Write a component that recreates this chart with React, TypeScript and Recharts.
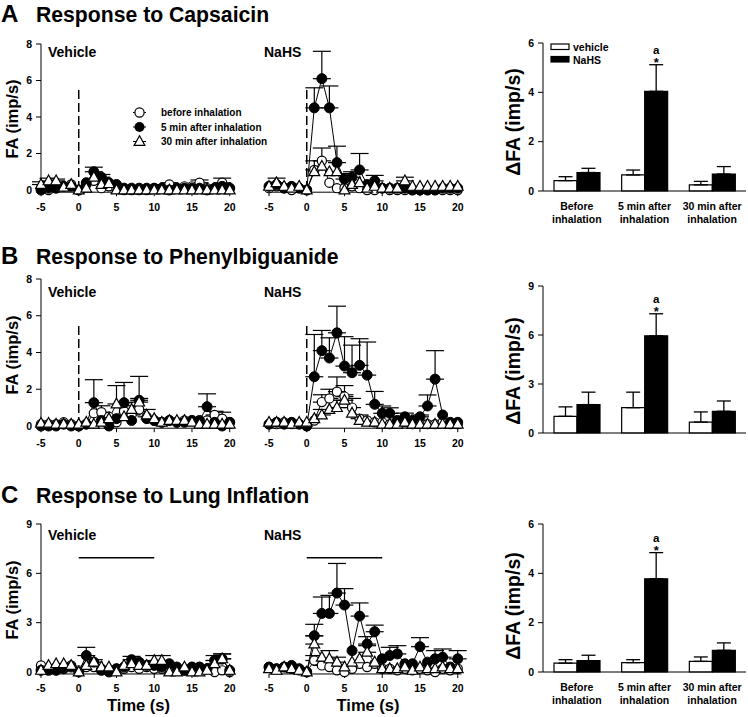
import React from 'react'
import { ComposedChart, Line, Bar, XAxis, YAxis, ErrorBar, ReferenceLine, LabelList } from 'recharts'

const FONT = 'Arial, "Liberation Sans", Helvetica, sans-serif'

// time points (s), one per second
const TIME = [-5, -4, -3, -2, -1, 0, 1, 2, 3, 4, 5, 6, 7, 8, 9, 10, 11, 12, 13, 14, 15, 16, 17, 18, 19, 20]
const TIME_TICKS = [-5, 0, 5, 10, 15, 20]

// A: capsaicin, vehicle
const A_VEH_BEFORE = [0.1, 0, 0.1, 0.2, 0.3, 0, 0.3, 0.5, 0.1, 0.2, 0.1, 0, 0, 0, 0, 0.1, 0.1, 0.3, 0.1, 0.2, 0.2, 0.4, 0.1, 0.1, 0.4, 0.1]
const A_VEH_BEFORE_ERR = [0, 0, 0, 0, 0, 0, 0, 0, 0, 0, 0, 0, 0, 0, 0, 0, 0, 0.1, 0, 0, 0, 0.15, 0, 0, 0.25, 0]
const A_VEH_5 = [0, 0.1, 0.1, 0.2, 0.2, 0, 0.4, 1.0, 0.7, 0.4, 0.3, 0.1, 0.1, 0.1, 0.1, 0.1, 0.1, 0, 0.1, 0.1, 0.1, 0.1, 0, 0.1, 0.2, 0.1]
const A_VEH_5_ERR = [0, 0, 0, 0, 0, 0, 0, 0.25, 0.15, 0, 0, 0, 0, 0, 0, 0, 0, 0, 0, 0, 0, 0, 0, 0, 0, 0]
const A_VEH_30 = [0.3, 0.5, 0.5, 0.15, 0.3, 0, 0.1, 0.7, 0.3, 0.35, 0, 0, 0, 0, 0, 0, 0, 0, 0, 0, 0, 0, 0, 0, 0, 0]
const A_VEH_30_ERR = [0.15, 0.15, 0.1, 0, 0, 0, 0, 0, 0, 0, 0, 0, 0, 0, 0, 0, 0, 0, 0, 0, 0, 0, 0, 0, 0, 0]
// A: capsaicin, NaHS
const A_NAHS_BEFORE = [0.1, 0.2, 0.1, 0, 0.1, 0, 1.1, 1.6, 0.4, 0.1, 0.1, 0.2, 0.1, 0, 0, 0.1, 0, 0, 0, 0, 0, 0, 0, 0, 0, 0]
const A_NAHS_BEFORE_ERR = [0, 0, 0, 0, 0, 0, 0.5, 0.7, 0, 0, 0, 0, 0, 0, 0, 0, 0, 0, 0, 0, 0, 0, 0, 0, 0, 0]
const A_NAHS_5 = [0.2, 0.3, 0.1, 0.2, 0.1, 0, 4.5, 6.1, 4.5, 1.5, 0.6, 0.7, 1.1, 0.3, 0.5, 0.1, 0.1, 0.1, 0.1, 0, 0, 0, 0, 0.1, 0.1, 0.1]
const A_NAHS_5_ERR = [0, 0, 0, 0, 0, 0, 1.1, 1.5, 1.2, 0.9, 0.3, 0.3, 0.9, 0, 0.3, 0, 0, 0, 0, 0, 0, 0, 0, 0, 0, 0]
const A_NAHS_30 = [0.2, 0.4, 0.2, 0.1, 0.2, 0, 1.0, 1.3, 1.0, 1.0, 0, 0.3, 0.4, 0.1, 0.2, 0.1, 0.1, 0.1, 0.5, 0.2, 0.2, 0.2, 0.2, 0.2, 0.2, 0.2]
const A_NAHS_30_ERR = [0, 0.25, 0, 0, 0, 0, 0, 0, 0, 0, 0, 0, 0, 0, 0, 0, 0, 0, 0.2, 0, 0, 0, 0, 0, 0, 0]

// B: phenylbiguanide, vehicle
const B_VEH_BEFORE = [0.1, 0.1, 0.1, 0.2, 0.1, 0, 0.1, 0.7, 0.75, 0.5, 0.2, 0.8, 0.6, 0.9, 0.5, 0.3, 0.2, 0.3, 0.2, 0.3, 0.3, 0.2, 0.3, 0.6, 0.4, 0.2]
const B_VEH_BEFORE_ERR = [0, 0, 0, 0, 0, 0, 0, 0, 0.35, 0, 0, 0, 0.3, 0, 0.4, 0, 0, 0, 0, 0, 0, 0, 0, 0.2, 0.35, 0]
const B_VEH_5 = [0, 0, 0, 0.1, 0, 0, 0.1, 1.27, 0.3, 0, 0.4, 1.27, 0.3, 1.4, 0.4, 0.3, 0.2, 0.3, 0.2, 0.2, 0.3, 0.3, 1.05, 0.2, 0, 0.2]
const B_VEH_5_ERR = [0, 0, 0, 0, 0, 0, 0, 1.25, 0, 0, 0, 1.1, 0, 1.3, 0, 0, 0, 0, 0, 0, 0, 0, 0.7, 0, 0, 0]
const B_VEH_30 = [0.15, 0.15, 0.1, 0.1, 0.1, 0.1, 0.2, 0.1, 0.2, 0.4, 1.2, 0.5, 0.9, 1.3, 0.6, 0.4, 0.2, 0.3, 0.3, 0.3, 0.2, 0.1, 0.1, 0.1, 0.1, 0.1]
const B_VEH_30_ERR = [0, 0, 0, 0, 0, 0, 0, 0, 0, 0, 1.0, 0, 0.2, 0.2, 0, 0, 0, 0, 0, 0, 0, 0, 0, 0, 0, 0]
// B: phenylbiguanide, NaHS
const B_NAHS_BEFORE = [0.1, 0.1, 0.2, 0.1, 0.1, 0, 0.3, 1.3, 1.5, 1.87, 1.6, 1.0, 0.4, 0.3, 0.2, 0.2, 0.1, 0.2, 0.2, 0.1, 0.2, 0.1, 0.1, 0.2, 0.1, 0.1]
const B_NAHS_BEFORE_ERR = [0, 0, 0, 0, 0, 0, 0, 0.4, 0.5, 0.8, 0.6, 0.5, 0.2, 0, 0, 0, 0, 0, 0, 0, 0, 0, 0, 0, 0, 0]
const B_NAHS_5 = [0.1, 0.2, 0.1, 0.2, 0.1, 0, 2.68, 4.1, 3.7, 5.07, 3.26, 2.9, 3.3, 2.77, 1.18, 0.69, 0.69, 0.3, 0.5, 0.3, 0.5, 1.09, 2.55, 0.6, 0.2, 0.2]
const B_NAHS_5_ERR = [0, 0, 0, 0, 0, 0, 2.3, 1.1, 1.1, 1.45, 1.6, 1.5, 1.45, 1.8, 0.7, 0.4, 0.3, 0, 0.2, 0, 0.1, 0.6, 1.55, 0, 0, 0]
const B_NAHS_30 = [0.2, 0.2, 0.2, 0.1, 0.2, 0.2, 0.4, 0.6, 0.9, 1.0, 1.4, 0.7, 0.3, 0.2, 0.2, 0.1, 0.1, 0.1, 0.2, 0.1, 0.1, 0.1, 0.1, 0.1, 0.1, 0.1]
const B_NAHS_30_ERR = [0, 0, 0, 0, 0, 0, 0, 0.3, 0, 0.4, 0.3, 0, 0, 0, 0, 0, 0, 0, 0, 0, 0, 0, 0, 0, 0, 0]

// C: lung inflation, vehicle
const C_VEH_BEFORE = [0.4, 0.2, 0.3, 0.2, 0.4, 0.1, 0.3, 0.3, 0.2, 0.1, 0.2, 0.2, 0.3, 0.2, 0.3, 0.2, 0.2, 0.2, 0.2, 0.1, 0.3, 0.3, 0.2, 0, 0.1, 0]
const C_VEH_BEFORE_ERR = [0, 0, 0, 0, 0, 0, 0, 0, 0, 0, 0, 0, 0, 0, 0, 0, 0, 0, 0, 0, 0, 0, 0, 0, 0, 0]
const C_VEH_5 = [0.1, 0.1, 0.1, 0.2, 0.3, 0, 1.0, 0.6, 0.1, 0, 0.2, 0.3, 0.75, 0.6, 0.4, 0.4, 0.3, 0.5, 0.3, 0.1, 0.3, 0.3, 0.2, 0.7, 0.8, 0.1]
const C_VEH_5_ERR = [0, 0, 0, 0, 0, 0, 0.5, 0.15, 0, 0, 0, 0, 0.2, 0, 0, 0, 0, 0, 0, 0, 0, 0, 0, 0.3, 0.3, 0]
const C_VEH_30 = [0.1, 0.4, 0.5, 0.5, 0.4, 0, 0.4, 0.6, 0.3, 0.3, 0, 0.4, 0.5, 0.4, 0.4, 0.7, 0.7, 0, 0, 0.3, 0, 0, 0.1, 0.5, 0.8, 0.1]
const C_VEH_30_ERR = [0, 0, 0, 0, 0, 0, 0, 0, 0, 0, 0, 0, 0, 0, 0, 0.3, 0.3, 0, 0, 0, 0, 0, 0, 0.2, 0.3, 0]
// C: lung inflation, NaHS
const C_NAHS_BEFORE = [0.3, 0.2, 0.3, 0.2, 0.1, 0, 0.7, 0.4, 0.3, 0.1, 0, 0.2, 0.5, 0.3, 0.5, 0.2, 0.2, 0.1, 0.2, 0.1, 0.2, 0.1, 0, 0.2, 0.1, 0.2]
const C_NAHS_BEFORE_ERR = [0, 0, 0, 0, 0, 0, 0.3, 0.3, 0.3, 0, 0, 0, 0, 0, 0, 0, 0, 0, 0, 0, 0, 0, 0, 0, 0, 0]
const C_NAHS_5 = [0.3, 0.2, 0.3, 0.4, 0.2, 0, 2.2, 3.56, 3.56, 4.8, 4.07, 1.3, 3.4, 1.7, 2.45, 0.8, 1.0, 1.1, 0.5, 0.5, 1.54, 0.6, 0.8, 0.9, 0.3, 0.8]
const C_NAHS_5_ERR = [0, 0, 0, 0, 0, 0, 0.7, 1.0, 1.1, 1.8, 1.0, 0, 0.8, 0.45, 0.4, 0, 0.5, 0.5, 0, 0, 0.55, 0, 0.5, 0.5, 0, 0.5]
const C_NAHS_30 = [0.2, 0.1, 0.3, 0.2, 0.1, 0, 1.7, 0.9, 0.8, 0.6, 0.3, 0.6, 0.8, 1.2, 0.6, 0.2, 0.2, 0.2, 0.3, 0.1, 0.3, 0.2, 0.2, 0.3, 0.2, 0.2]
const C_NAHS_30_ERR = [0, 0, 0, 0, 0, 0, 0.5, 0, 0.5, 0.3, 0, 0, 0, 0.4, 0, 0, 0, 0, 0, 0, 0, 0, 0, 0, 0, 0]

// bar summaries (ΔFA)
const BAR_CATS = ['Before\ninhalation', '5 min after\ninhalation', '30 min after\ninhalation']
const BAR_MARK = ['', 'a', '']
const A_BAR_VEH = [0.42, 0.65, 0.25]
const A_BAR_VEH_ERR = [0.16, 0.2, 0.14]
const A_BAR_NAHS = [0.75, 4.04, 0.69]
const A_BAR_NAHS_ERR = [0.17, 1.08, 0.3]
const B_BAR_VEH = [1.02, 1.55, 0.67]
const B_BAR_VEH_ERR = [0.58, 0.95, 0.62]
const B_BAR_NAHS = [1.74, 5.95, 1.33]
const B_BAR_NAHS_ERR = [0.76, 1.35, 0.63]
const C_BAR_VEH = [0.36, 0.38, 0.43]
const C_BAR_VEH_ERR = [0.14, 0.12, 0.18]
const C_BAR_NAHS = [0.46, 3.78, 0.88]
const C_BAR_NAHS_ERR = [0.22, 1.06, 0.3]

const tickStyle = { fontSize: 10.5, fontWeight: 700, fill: '#000', fontFamily: FONT }
const up = (e: number) => (e > 0 ? [0, e] : null)

// eslint-disable-next-line @typescript-eslint/no-explicit-any
const openDot = (p: any) => (
  <circle key={`o${p.index}`} cx={p.cx} cy={p.cy} r={4.6} fill="#fff" stroke="#000" strokeWidth={1.2} />
)
// eslint-disable-next-line @typescript-eslint/no-explicit-any
const fillDot = (p: any) => (
  <circle key={`f${p.index}`} cx={p.cx} cy={p.cy} r={5} fill="#000" stroke="#000" strokeWidth={1} />
)
// eslint-disable-next-line @typescript-eslint/no-explicit-any
const triDot = (p: any) => (
  <path key={`t${p.index}`} d={`M${p.cx},${p.cy - 5.8}L${p.cx - 5.4},${p.cy + 3.9}L${p.cx + 5.4},${p.cy + 3.9}Z`}
    fill="#fff" stroke="#000" strokeWidth={1.2} />
)

interface TimeProps {
  left: number; topY: number; zeroY: number; yMax: number; yTicks: number[]; showY: boolean
  stim: 'dash' | 'bar'
  before: number[]; beforeErr: number[]; min5: number[]; min5Err: number[]; min30: number[]; min30Err: number[]
}

function TimeChart({ left, topY, zeroY, yMax, yTicks, showY, stim, before, beforeErr, min5, min5Err, min30, min30Err }: TimeProps) {
  const ppu = (zeroY - topY) / yMax
  const yMin = -0.12
  const plotH = (yMax - yMin) * ppu
  const plotW = 192.5
  const padL = 40, padT = 8, padR = 12, padB = 30

  const rows = TIME.map((t, i) => ({
    t,
    b: before[i], bE: up(beforeErr[i]),
    m5: min5[i], m5E: up(min5Err[i]),
    m30: min30[i], m30E: up(min30Err[i]),
  }))

  return (
    <div style={{ position: 'absolute', left: left - padL, top: topY - padT }}>
      <ComposedChart width={plotW + padL + padR} height={plotH + padT + padB} data={rows}
        margin={{ top: padT, right: padR, bottom: 0, left: showY ? 0 : padL }}>
        <XAxis type="number" dataKey="t" domain={[-5, 20.5]} ticks={TIME_TICKS} height={padB}
          tick={tickStyle} tickSize={4} tickMargin={7}
          axisLine={{ stroke: '#000' }} tickLine={{ stroke: '#000' }} />
        <YAxis type="number" domain={[yMin, yMax]} ticks={yTicks} width={padL} hide={!showY}
          tick={tickStyle} tickSize={5} tickMargin={4}
          axisLine={{ stroke: '#000' }} tickLine={{ stroke: '#000' }} />
        {stim === 'dash'
          ? <ReferenceLine segment={[{ x: 0, y: 0 }, { x: 0, y: 5.6 }]} stroke="#000" strokeWidth={1.5} strokeDasharray="9 4" />
          : <ReferenceLine segment={[{ x: 0, y: 6.95 }, { x: 10, y: 6.95 }]} stroke="#000" strokeWidth={1.5} />}
        <Line type="linear" dataKey="b" stroke="#000" strokeWidth={1} dot={openDot} isAnimationActive={false}>
          <ErrorBar dataKey="bE" direction="y" width={9} stroke="#000" strokeWidth={1.2} />
        </Line>
        <Line type="linear" dataKey="m5" stroke="#000" strokeWidth={1} dot={fillDot} isAnimationActive={false}>
          <ErrorBar dataKey="m5E" direction="y" width={9} stroke="#000" strokeWidth={1.2} />
        </Line>
        <Line type="linear" dataKey="m30" stroke="#000" strokeWidth={1} dot={triDot} isAnimationActive={false}>
          <ErrorBar dataKey="m30E" direction="y" width={9} stroke="#000" strokeWidth={1.2} />
        </Line>
      </ComposedChart>
    </div>
  )
}

// eslint-disable-next-line @typescript-eslint/no-explicit-any
function CatTick({ x, y, payload }: any) {
  const lines = String(payload.value).split('\n')
  return (
    <text x={x} y={y} textAnchor="middle" style={tickStyle}>
      <tspan x={x} dy={19}>{lines[0]}</tspan>
      <tspan x={x} dy={13}>{lines[1]}</tspan>
    </text>
  )
}

interface BarProps {
  topY: number; zeroY: number; yMax: number; yTicks: number[]; showCats: boolean
  veh: number[]; vehErr: number[]; nahs: number[]; nahsErr: number[]
}

function BarPanel({ topY, zeroY, yMax, yTicks, showCats, veh, vehErr, nahs, nahsErr }: BarProps) {
  const plotLeft = 543, plotW = 203
  const plotH = zeroY - topY
  const padL = 45, padT = 8, padR = 3, padB = 40

  const rows = BAR_CATS.map((cat, i) => ({
    cat, veh: veh[i], vehE: [0, vehErr[i]], nahs: nahs[i], nahsE: [0, nahsErr[i]], mark: BAR_MARK[i],
  }))

  // "a" over "*" above the error bar of the marked bar
  // eslint-disable-next-line @typescript-eslint/no-explicit-any
  const renderMark = (p: any) => {
    const i = p.index
    if (i == null || !BAR_MARK[i]) return null
    const vb = p.viewBox || p
    const x = (vb.x ?? p.x) + (vb.width ?? p.width) / 2
    const yTop = vb.y ?? p.y
    const h = Math.abs(vb.height ?? p.height)
    const errTop = yTop - nahsErr[i] * (h / nahs[i])
    return (
      <g key={`m${i}`}>
        <text x={x} y={errTop - 11} textAnchor="middle" style={{ ...tickStyle, fontSize: 11.5 }}>{BAR_MARK[i]}</text>
        <text x={x} y={errTop + 2} textAnchor="middle" style={{ ...tickStyle, fontSize: 13 }}>*</text>
      </g>
    )
  }

  return (
    <div style={{ position: 'absolute', left: plotLeft - padL, top: topY - padT }}>
      <ComposedChart width={plotW + padL + padR} height={plotH + padT + padB} data={rows}
        margin={{ top: padT, right: padR, bottom: 0, left: 0 }} barGap={0}>
        <XAxis dataKey="cat" height={padB} tickSize={0} tickMargin={0} tickLine={false}
          tick={showCats ? <CatTick /> : false} axisLine={{ stroke: '#000' }} interval={0} />
        <YAxis type="number" domain={[0, yMax]} ticks={yTicks} width={padL}
          tick={tickStyle} tickSize={5} tickMargin={4}
          axisLine={{ stroke: '#000' }} tickLine={{ stroke: '#000' }} />
        <Bar dataKey="veh" barSize={23} fill="#fff" stroke="#000" strokeWidth={1.2} isAnimationActive={false}>
          <ErrorBar dataKey="vehE" direction="y" width={7} stroke="#000" strokeWidth={1.3} />
        </Bar>
        <Bar dataKey="nahs" barSize={23} fill="#000" stroke="#000" strokeWidth={1.2} isAnimationActive={false}>
          <ErrorBar dataKey="nahsE" direction="y" width={7} stroke="#000" strokeWidth={1.3} />
          <LabelList dataKey="mark" content={renderMark} />
        </Bar>
      </ComposedChart>
    </div>
  )
}

const bold = { fontFamily: FONT, fontWeight: 700, fill: '#000' }

function Overlay() {
  const legendRows = [
    { y: 112.5, label: 'before inhalation', kind: 'open' },
    { y: 127, label: '5 min after inhalation', kind: 'fill' },
    { y: 141.5, label: '30 min after inhalation', kind: 'tri' },
  ]
  const titles = [
    { y: 22, k: 'A', t: 'Response to Capsaicin' },
    { y: 264, k: 'B', t: 'Response to Phenylbiguanide' },
    { y: 503, k: 'C', t: 'Response to Lung Inflation' },
  ]
  const sub = [57, 297, 539.5]
  const faCenters = [119, 355, 600]
  const dfaCenters = [122, 371, 606]
  return (
    <svg width={748} height={717} style={{ position: 'absolute', left: 0, top: 0, pointerEvents: 'none' }}>
      {titles.map(r => (
        <g key={r.k}>
          <text x={1} y={r.y} style={{ ...bold, fontSize: 24 }}>{r.k}</text>
          <text x={36} y={r.y} style={{ ...bold, fontSize: 21.2 }}>{r.t}</text>
        </g>
      ))}
      {sub.map(y => (
        <g key={y}>
          <text x={48} y={y} style={{ ...bold, fontSize: 14 }}>Vehicle</text>
          <text x={264} y={y} style={{ ...bold, fontSize: 14 }}>NaHS</text>
        </g>
      ))}
      {faCenters.map(c => (
        <text key={c} transform={`translate(18,${c}) rotate(-90)`} textAnchor="middle" style={{ ...bold, fontSize: 16.5 }}>FA (imp/s)</text>
      ))}
      {dfaCenters.map(c => (
        <text key={c} transform={`translate(520,${c}) rotate(-90)`} textAnchor="middle" style={{ ...bold, fontSize: 19.5 }}>ΔFA (imp/s)</text>
      ))}
      <text x={138.5} y={711} textAnchor="middle" style={{ ...bold, fontSize: 16.5 }}>Time (s)</text>
      <text x={368} y={711} textAnchor="middle" style={{ ...bold, fontSize: 16.5 }}>Time (s)</text>

      {legendRows.map(r => (
        <g key={r.label}>
          <line x1={133} x2={146} y1={r.y} y2={r.y} stroke="#000" strokeWidth={1} />
          {r.kind === 'open' && <circle cx={139.5} cy={r.y} r={4.6} fill="#fff" stroke="#000" strokeWidth={1.2} />}
          {r.kind === 'fill' && <circle cx={139.5} cy={r.y} r={5} fill="#000" />}
          {r.kind === 'tri' && (
            <path d={`M139.5,${r.y - 5.8}L134.1,${r.y + 3.9}L144.9,${r.y + 3.9}Z`} fill="#fff" stroke="#000" strokeWidth={1.2} />
          )}
          <text x={161} y={r.y + 3.6} style={{ ...bold, fontSize: 10 }}>{r.label}</text>
        </g>
      ))}

      <rect x={551} y={44} width={18} height={5.5} fill="#fff" stroke="#000" strokeWidth={1.2} />
      <text x={573} y={50.5} style={{ ...bold, fontSize: 10.5 }}>vehicle</text>
      <rect x={551} y={56.5} width={18} height={5.5} fill="#000" stroke="#000" strokeWidth={1.2} />
      <text x={573} y={63.5} style={{ ...bold, fontSize: 10.5 }}>NaHS</text>
    </svg>
  )
}

export default function App() {
  return (
    <div style={{ position: 'relative', width: 748, height: 717, background: '#fff', fontFamily: FONT, overflow: 'hidden' }}>
      <style>{'body{margin:0}'}</style>

      <TimeChart left={40.5} topY={44} zeroY={190} yMax={8} yTicks={[0, 2, 4, 6, 8]} showY stim="dash"
        before={A_VEH_BEFORE} beforeErr={A_VEH_BEFORE_ERR} min5={A_VEH_5} min5Err={A_VEH_5_ERR} min30={A_VEH_30} min30Err={A_VEH_30_ERR} />
      <TimeChart left={268.75} topY={44} zeroY={190} yMax={8} yTicks={[0, 2, 4, 6, 8]} showY={false} stim="dash"
        before={A_NAHS_BEFORE} beforeErr={A_NAHS_BEFORE_ERR} min5={A_NAHS_5} min5Err={A_NAHS_5_ERR} min30={A_NAHS_30} min30Err={A_NAHS_30_ERR} />
      <BarPanel topY={43} zeroY={191} yMax={6} yTicks={[0, 2, 4, 6]} showCats
        veh={A_BAR_VEH} vehErr={A_BAR_VEH_ERR} nahs={A_BAR_NAHS} nahsErr={A_BAR_NAHS_ERR} />

      <TimeChart left={40.5} topY={279} zeroY={426} yMax={8} yTicks={[0, 2, 4, 6, 8]} showY stim="dash"
        before={B_VEH_BEFORE} beforeErr={B_VEH_BEFORE_ERR} min5={B_VEH_5} min5Err={B_VEH_5_ERR} min30={B_VEH_30} min30Err={B_VEH_30_ERR} />
      <TimeChart left={268.75} topY={279} zeroY={426} yMax={8} yTicks={[0, 2, 4, 6, 8]} showY={false} stim="dash"
        before={B_NAHS_BEFORE} beforeErr={B_NAHS_BEFORE_ERR} min5={B_NAHS_5} min5Err={B_NAHS_5_ERR} min30={B_NAHS_30} min30Err={B_NAHS_30_ERR} />
      <BarPanel topY={286} zeroY={433} yMax={9} yTicks={[0, 3, 6, 9]} showCats={false}
        veh={B_BAR_VEH} vehErr={B_BAR_VEH_ERR} nahs={B_BAR_NAHS} nahsErr={B_BAR_NAHS_ERR} />

      <TimeChart left={40.5} topY={524} zeroY={672} yMax={9} yTicks={[0, 3, 6, 9]} showY stim="bar"
        before={C_VEH_BEFORE} beforeErr={C_VEH_BEFORE_ERR} min5={C_VEH_5} min5Err={C_VEH_5_ERR} min30={C_VEH_30} min30Err={C_VEH_30_ERR} />
      <TimeChart left={268.75} topY={524} zeroY={672} yMax={9} yTicks={[0, 3, 6, 9]} showY={false} stim="bar"
        before={C_NAHS_BEFORE} beforeErr={C_NAHS_BEFORE_ERR} min5={C_NAHS_5} min5Err={C_NAHS_5_ERR} min30={C_NAHS_30} min30Err={C_NAHS_30_ERR} />
      <BarPanel topY={524} zeroY={672} yMax={6} yTicks={[0, 2, 4, 6]} showCats
        veh={C_BAR_VEH} vehErr={C_BAR_VEH_ERR} nahs={C_BAR_NAHS} nahsErr={C_BAR_NAHS_ERR} />

      <Overlay />
    </div>
  )
}
